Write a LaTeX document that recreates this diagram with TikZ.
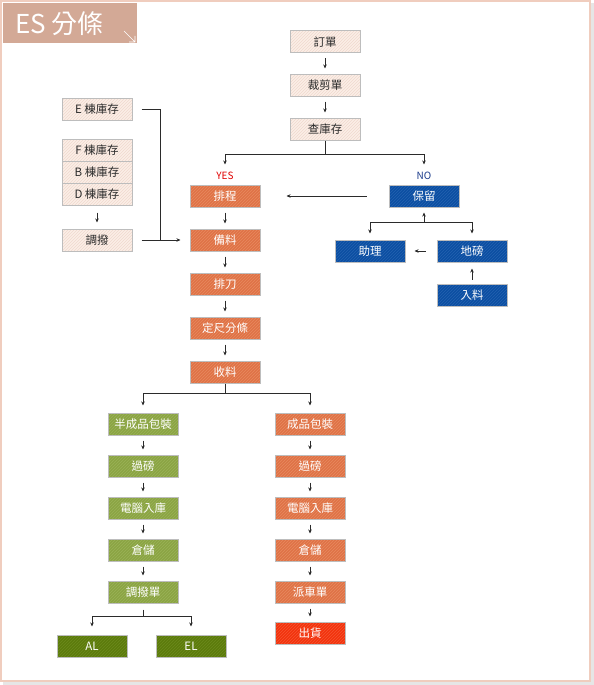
\documentclass[tikz,border=0pt]{standalone}
\usepackage{fontspec}
\setmainfont{Noto Sans CJK TC}
\usepackage{tikz}
\usetikzlibrary{calc}
\usetikzlibrary{patterns}
\usetikzlibrary{arrows.meta}

\definecolor{framepink}{HTML}{F0CDBE}
\definecolor{shadowgray}{HTML}{E6E6E6}
\definecolor{titlebrown}{HTML}{D3A996}
\definecolor{boxgray}{HTML}{BDBDBD}
\definecolor{lightfill}{HTML}{FBEEE7}
\definecolor{lightline}{HTML}{F0D9CE}
\definecolor{orangefill}{HTML}{DF7346}
\definecolor{orangeline}{HTML}{E8895F}
\definecolor{bluefill}{HTML}{0B4FA2}
\definecolor{blueline}{HTML}{2462B0}
\definecolor{greenfill}{HTML}{8BA444}
\definecolor{greenline}{HTML}{9AB257}
\definecolor{darkgreenfill}{HTML}{5C7B0C}
\definecolor{darkgreenline}{HTML}{6C8A1C}
\definecolor{redfill}{HTML}{F2330E}
\definecolor{redline}{HTML}{F65530}
\definecolor{linegray}{HTML}{2B2B2B}
\definecolor{yesred}{HTML}{E00000}
\definecolor{noblue}{HTML}{1A3A8A}

\begin{document}
\begin{tikzpicture}[x=1pt,y=-1pt]

	\tikzset{
		cell/.style={draw=boxgray, line width=1pt, minimum width=70pt, minimum height=22pt,
			inner sep=0pt, font=\fontsize{11.5}{12}\selectfont},
		hatch/.style n args={2}{preaction={fill=#1}, pattern=north east lines, pattern color=#2},
		lightbox/.style={cell, hatch={lightfill}{lightline}, text=linegray},
		orangebox/.style={cell, hatch={orangefill}{orangeline}, text=white},
		bluebox/.style={cell, hatch={bluefill}{blueline}, text=white},
		greenbox/.style={cell, hatch={greenfill}{greenline}, text=white},
		darkbox/.style={cell, hatch={darkgreenfill}{darkgreenline}, text=white},
		redbox/.style={cell, hatch={redfill}{redline}, text=white},
		flowline/.style={draw=linegray, line width=0.8pt},
		flowarr/.style={flowline, -{Stealth[length=4pt, width=3.5pt]}},
		tag/.style={inner sep=0pt, font=\fontsize{10}{10}\selectfont}
	}

	% --- frame and title ---
	\useasboundingbox (0,0) rectangle (594,685);
	\fill[shadowgray] (3,3) rectangle (594,685);
	\draw[framepink, line width=2pt, fill=white] (1,1) rectangle (590,681);
	\fill[titlebrown] (3,3) rectangle (137,43);
	\node[anchor=west, inner sep=0pt, text=white, font=\fontsize{26}{26}\selectfont] (title) at (15,24) {ES 分條};
	\draw[white, line width=0.6pt] (124,31) -- (135,42) (129,42) -- (135,42) -- (135,36);

	% --- order column ---
	\node[lightbox] (order) at (325,42) {訂單};
	\node[lightbox] (cut) at (325,85) {裁剪單};
	\node[lightbox] (stock) at (325,129) {查庫存};

	\node[tag, text=yesred] (yes) at (225,176) {YES};
	\node[tag, text=noblue] (no) at (424,176) {NO};

	% --- YES branch ---
	\foreach \name/\txt/\y in {prog/排程/196, prep/備料/240, knife/排刀/284, slit/定尺分條/328, recv/收料/372}
		\node[orangebox] (\name) at (225,\y) {\txt};

	% --- NO branch ---
	\node[bluebox] (hold) at (424,196) {保留};
	\node[bluebox] (assist) at (370,251) {助理};
	\node[bluebox] (scale) at (472,251) {地磅};
	\node[bluebox] (feed) at (472,295) {入料};

	% --- other warehouses ---
	\node[lightbox] (estock) at (97,109) {E 棟庫存};
	\node[lightbox] (fstock) at (97,150) {F 棟庫存};
	\node[lightbox] (bstock) at (97,172) {B 棟庫存};
	\node[lightbox] (dstock) at (97,194) {D 棟庫存};
	\node[lightbox] (trans) at (97,240) {調撥};

	% --- semi-finished column ---
	\foreach \name/\txt/\y in {semi/半成品包裝/424, sweigh/過磅/466, sstore/電腦入庫/508, swh/倉儲/550, sbill/調撥單/592}
		\node[greenbox] (\name) at (143,\y) {\txt};
	\node[darkbox] (al) at (92,646) {AL};
	\node[darkbox] (el) at (191,646) {EL};

	% --- finished column ---
	\foreach \name/\txt/\y in {pack/成品包裝/424, fweigh/過磅/466, fstore/電腦入庫/508, fwh/倉儲/550, truck/派車單/592}
		\node[orangebox] (\name) at (310,\y) {\txt};
	\node[redbox] (ship) at (310,633) {出貨};

	% --- straight arrows ---
	\foreach \a/\b in {order/cut, cut/stock, prog/prep, prep/knife, knife/slit, slit/recv,
		semi/sweigh, sweigh/sstore, sstore/swh, swh/sbill,
		pack/fweigh, fweigh/fstore, fstore/fwh, fwh/truck, truck/ship}
		\draw[flowarr, shorten <=5pt, shorten >=5pt] (\a) -- (\b);

	% --- splits ---
	\coordinate (ysplit) at (325,154);
	\draw[flowline] (stock.south) -- (ysplit);
	\draw[flowarr, shorten >=20pt] (ysplit) -| (prog.north);
	\draw[flowarr, shorten >=20pt] (ysplit) -| (hold.north);

	\coordinate (nsplit) at (424,222);
	\draw[flowarr, shorten >=5pt] (nsplit) -- (hold.south);
	\draw[flowarr, shorten >=6pt] (nsplit) -| (assist.north);
	\draw[flowarr, shorten >=6pt] (nsplit) -| (scale.north);

	\draw[flowarr, shorten <=22pt, shorten >=26pt] (hold.west) -- (prog.east);
	\draw[flowarr, shorten <=11pt, shorten >=9pt] (scale.west) -- (assist.east);
	\draw[flowarr, shorten <=4pt, shorten >=6pt] (feed.north) -- (scale.south);

	\draw[flowarr, shorten <=7pt, shorten >=6pt] (dstock.south) -- (trans.north);
	\coordinate (ejoin) at (160,240);
	\draw[flowline, shorten <=9pt] (estock.east) -| (ejoin);
	\draw[flowarr, shorten <=9pt, shorten >=9pt] (trans.east) -- (prep.west);

	\coordinate (bsplit) at (225,393);
	\draw[flowline] (recv.south) -- (bsplit);
	\draw[flowarr, shorten >=7pt] (bsplit) -| (semi.north);
	\draw[flowarr, shorten >=7pt] (bsplit) -| (pack.north);

	\coordinate (asplit) at (143,616);
	\draw[flowline, shorten <=6pt] (sbill.south) -- (asplit);
	\draw[flowarr, shorten >=8pt] (asplit) -| (al.north);
	\draw[flowarr, shorten >=8pt] (asplit) -| (el.north);

\end{tikzpicture}
\end{document}
